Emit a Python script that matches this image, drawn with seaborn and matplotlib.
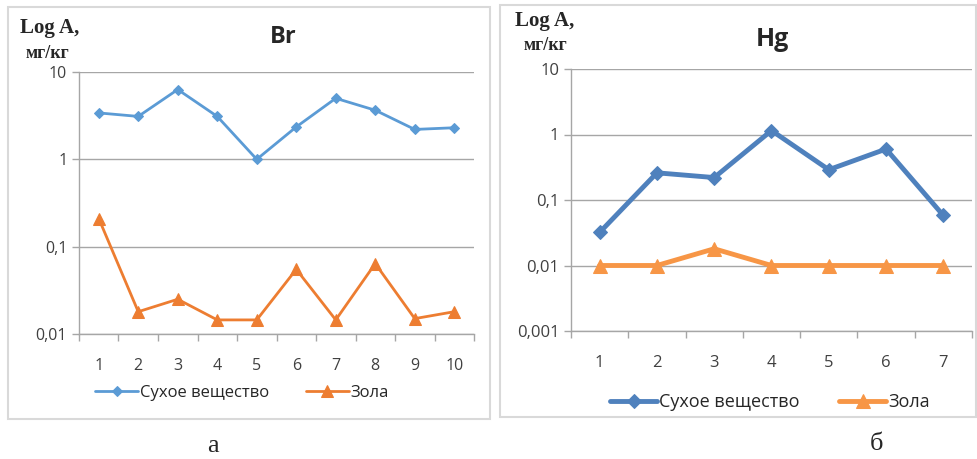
import matplotlib
matplotlib.use("Agg")
import matplotlib.pyplot as plt
import matplotlib.ticker as mticker
from matplotlib.patches import Rectangle
import seaborn as sns
import pandas as pd
import numpy as np

# ---- data ----
br_categories = ["1", "2", "3", "4", "5", "6", "7", "8", "9", "10"]
br_dry = [3.4, 3.1, 6.3, 3.1, 1.0, 2.35, 5.0, 3.65, 2.2, 2.3]
br_ash = [0.21, 0.018, 0.025, 0.0145, 0.0145, 0.055, 0.0145, 0.064, 0.015, 0.018]

hg_categories = ["1", "2", "3", "4", "5", "6", "7"]
hg_dry = [0.032, 0.26, 0.22, 1.15, 0.29, 0.6, 0.058]
hg_ash = [0.01, 0.01, 0.018, 0.01, 0.01, 0.01, 0.01]

series_names = ["Сухое вещество", "Зола"]
br_yticks = [0.01, 0.1, 1, 10]
br_yticklabels = ["0,01", "0,1", "1", "10"]
hg_yticks = [0.001, 0.01, 0.1, 1, 10]
hg_yticklabels = ["0,001", "0,01", "0,1", "1", "10"]

sns.set_theme(style="white")
plt.rcParams["font.family"] = ["Open Sans", "DejaVu Sans"]

W, H = 978, 459
fig = plt.figure(figsize=(W / 100, H / 100), dpi=100)

def px_axes(x0, y_top, x1, y_bot):
    return fig.add_axes([x0 / W, 1 - y_bot / H, (x1 - x0) / W, (y_bot - y_top) / H])

# panel borders
for (x0, y0, x1, y1) in [(8, 7, 490, 419), (500, 5, 976, 417)]:
    fig.patches.append(Rectangle((x0 / W, 1 - y1 / H), (x1 - x0) / W, (y1 - y0) / H,
                                 transform=fig.transFigure, fill=False,
                                 edgecolor="#D9D9D9", linewidth=1.5))

def make_panel(ax, cats, dry, ash, yticks, yticklabels, ylim, styles, fs):
    n = len(cats)
    df = pd.DataFrame({"x": list(range(n)) * 2,
                       "y": dry + ash,
                       "s": [series_names[0]] * n + [series_names[1]] * n})
    for name, st in zip(series_names, styles):
        sub = df[df["s"] == name]
        sns.lineplot(data=sub, x="x", y="y", ax=ax, color=st["color"],
                     linewidth=st["lw"], marker=st["marker"], markersize=st["ms"],
                     markeredgecolor=st["color"], markerfacecolor=st["color"],
                     label=name, legend=False)
    ax.set_yscale("log")
    ax.set_ylim(*ylim)
    ax.set_xlim(-0.5, n - 0.5)
    ax.yaxis.set_major_locator(mticker.FixedLocator(yticks))
    ax.yaxis.set_major_formatter(mticker.FixedFormatter(yticklabels))
    ax.yaxis.set_minor_locator(mticker.NullLocator())
    ax.set_xticks(np.arange(-0.5, n, 1.0))
    ax.set_xticklabels([])
    ax.set_xticks(range(n), minor=True)
    ax.set_xticklabels(cats, minor=True)
    ax.tick_params(axis="x", which="major", length=5, width=1, color="#A6A6A6",
                   direction="out", bottom=True)
    ax.tick_params(axis="x", which="minor", length=0, pad=17, labelsize=fs,
                   labelcolor="#404040")
    ax.tick_params(axis="y", which="major", length=5, width=1, color="#A6A6A6",
                   direction="out", left=True, labelsize=fs, labelcolor="#404040")
    ax.grid(axis="y", which="major", color="#A6A6A6", linewidth=1)
    ax.grid(axis="x", visible=False)
    for sp in ["top", "right"]:
        ax.spines[sp].set_visible(False)
    for sp in ["left", "bottom"]:
        ax.spines[sp].set_color("#A6A6A6")
        ax.spines[sp].set_linewidth(1)
    ax.set_xlabel("")
    ax.set_ylabel("")
    ax.set_facecolor("white")

# ---- left panel: Br ----
ax1 = px_axes(79, 72, 474, 334)
make_panel(ax1, br_categories, br_dry, br_ash, br_yticks, br_yticklabels, (0.01, 10),
           [dict(color="#5B9BD5", lw=2, marker="D", ms=5),
            dict(color="#ED7D31", lw=2, marker="^", ms=8)], 11.5)
fig.text(283 / W, 1 - 37 / H, "Br", ha="center", va="center", fontsize=17,
         fontweight="bold", family=["Open Sans", "DejaVu Sans"])
fig.text(50 / W, 1 - 28 / H, "Log A,", ha="center", va="center", fontsize=15,
         fontweight="bold", family=["Liberation Serif"])
fig.text(47 / W, 1 - 53 / H, "мг/кг", ha="center", va="center", fontsize=13,
         fontweight="bold", family=["Liberation Serif"])
h1, l1 = ax1.get_legend_handles_labels()
fig.legend(h1, l1, loc="center", bbox_to_anchor=(242 / W, 1 - 393 / H), ncol=2,
           frameon=False, fontsize=12, handlelength=2.6, handletextpad=0.1,
           columnspacing=2.2)
fig.text(213 / W, 1 - 446 / H, "а", ha="center", va="center", fontsize=19,
         family=["Liberation Serif"])

# ---- right panel: Hg ----
ax2 = px_axes(571, 69, 972, 331)
make_panel(ax2, hg_categories, hg_dry, hg_ash, hg_yticks, hg_yticklabels, (0.001, 10),
           [dict(color="#4F81BD", lw=3.5, marker="D", ms=7),
            dict(color="#F79646", lw=3.5, marker="^", ms=10)], 12)
fig.text(772 / W, 1 - 40 / H, "Hg", ha="center", va="center", fontsize=18,
         fontweight="bold", family=["Open Sans", "DejaVu Sans"])
fig.text(545 / W, 1 - 21 / H, "Log A,", ha="center", va="center", fontsize=15,
         fontweight="bold", family=["Liberation Serif"])
fig.text(545 / W, 1 - 46 / H, "мг/кг", ha="center", va="center", fontsize=13,
         fontweight="bold", family=["Liberation Serif"])
h2, l2 = ax2.get_legend_handles_labels()
fig.legend(h2, l2, loc="center", bbox_to_anchor=(770 / W, 1 - 402 / H), ncol=2,
           frameon=False, fontsize=13, handlelength=2.6, handletextpad=0.1,
           columnspacing=2.2)
fig.text(877 / W, 1 - 444 / H, "б", ha="center", va="center", fontsize=19,
         family=["Liberation Serif"])

fig.savefig("out.png", dpi=100, facecolor="white")
